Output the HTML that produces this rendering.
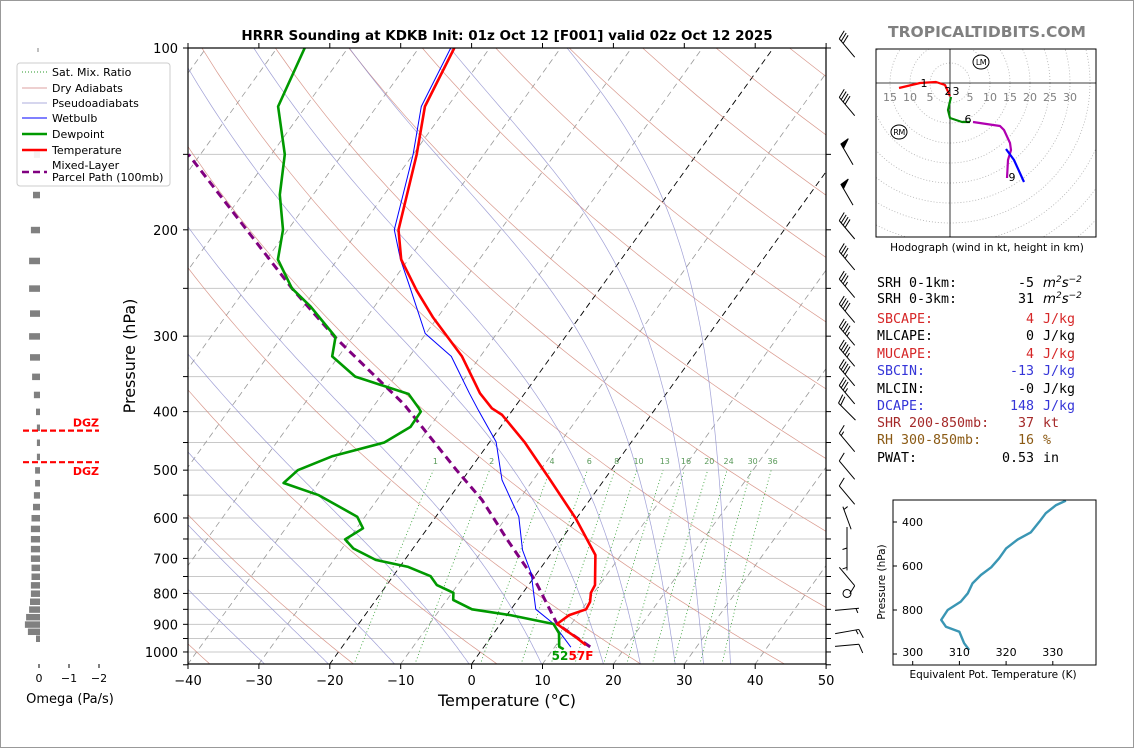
<!DOCTYPE html>
<html><head><meta charset="utf-8"><title>HRRR Sounding KDKB</title>
<style>
html,body{margin:0;padding:0;background:#fff;}
svg{display:block;font-family:"DejaVu Sans","Liberation Sans",sans-serif;}
.mono{font-family:"DejaVu Sans Mono","Liberation Mono",monospace;font-size:13.3px;}
</style></head>
<body>
<svg id="fig" xmlns="http://www.w3.org/2000/svg" width="1134" height="748" viewBox="0 0 1134 748">
<rect x="0.5" y="0.5" width="1133" height="747" fill="#fff" stroke="#999"/>
<defs>
<clipPath id="mainClip"><rect x="188" y="48" width="638" height="616"/></clipPath>
<clipPath id="hodoClip"><rect x="876" y="49" width="220" height="188"/></clipPath>
<clipPath id="teClip"><rect x="893" y="500" width="203" height="165"/></clipPath>
</defs>
<g id="mainGrid" clip-path="url(#mainClip)"></g>
<g id="mainData" clip-path="url(#mainClip)"></g>
<g id="mainAxes"></g>
<g id="omega"></g>
<g id="barbs"></g>
<g id="hodo"></g>
<g id="te"></g>

<text x="507" y="40" text-anchor="middle" font-size="13.5" font-weight="bold">HRRR Sounding at KDKB Init: 01z Oct 12 [F001] valid 02z Oct 12 2025</text>
<text x="987" y="37" text-anchor="middle" font-size="15.5" font-weight="bold" fill="#808080">TROPICALTIDBITS.COM</text>
<text x="507" y="706" text-anchor="middle" font-size="16">Temperature (°C)</text>
<text transform="translate(135,356) rotate(-90)" text-anchor="middle" font-size="16">Pressure (hPa)</text>

<g class="mono">
<text x="877" y="287" xml:space="preserve">SRH 0-1km:</text><text x="1034" y="287" text-anchor="end">-5</text><text x="1043" y="287" font-style="italic" font-family="DejaVu Sans">m<tspan dy="-5" font-size="9">2</tspan><tspan dy="5">s</tspan><tspan dy="-5" font-size="9">−2</tspan></text>
<text x="877" y="303">SRH 0-3km:</text><text x="1034" y="303" text-anchor="end">31</text><text x="1043" y="303" font-style="italic" font-family="DejaVu Sans">m<tspan dy="-5" font-size="9">2</tspan><tspan dy="5">s</tspan><tspan dy="-5" font-size="9">−2</tspan></text>
<g fill="#d62728"><text x="877" y="323">SBCAPE:</text><text x="1034" y="323" text-anchor="end">4</text><text x="1043" y="323">J/kg</text></g>
<g fill="#000"><text x="877" y="340">MLCAPE:</text><text x="1034" y="340" text-anchor="end">0</text><text x="1043" y="340">J/kg</text></g>
<g fill="#d62728"><text x="877" y="358">MUCAPE:</text><text x="1034" y="358" text-anchor="end">4</text><text x="1043" y="358">J/kg</text></g>
<g fill="#3535d8"><text x="877" y="375">SBCIN:</text><text x="1034" y="375" text-anchor="end">-13</text><text x="1043" y="375">J/kg</text></g>
<g fill="#000"><text x="877" y="393">MLCIN:</text><text x="1034" y="393" text-anchor="end">-0</text><text x="1043" y="393">J/kg</text></g>
<g fill="#3535d8"><text x="877" y="410">DCAPE:</text><text x="1034" y="410" text-anchor="end">148</text><text x="1043" y="410">J/kg</text></g>
<g fill="#a52a2a"><text x="877" y="427">SHR 200-850mb:</text><text x="1034" y="427" text-anchor="end">37</text><text x="1043" y="427">kt</text></g>
<g fill="#8b5a14"><text x="877" y="444">RH 300-850mb:</text><text x="1034" y="444" text-anchor="end">16</text><text x="1043" y="444">%</text></g>
<g fill="#000"><text x="877" y="462">PWAT:</text><text x="1034" y="462" text-anchor="end">0.53</text><text x="1043" y="462">in</text></g>
</g>

<g font-size="11">
<rect x="17" y="63" width="153" height="123" rx="3" fill="#fff" fill-opacity="0.9" stroke="#ccc"/>
<line x1="22" y1="72" x2="47" y2="72" stroke="#2a9a2a" stroke-dasharray="1,2"/><text x="52" y="76">Sat. Mix. Ratio</text>
<line x1="22" y1="88" x2="47" y2="88" stroke="#d08080" stroke-width="0.8"/><text x="52" y="92">Dry Adiabats</text>
<line x1="22" y1="103" x2="47" y2="103" stroke="#9090d0" stroke-width="0.8"/><text x="52" y="107">Pseudoadiabats</text>
<line x1="22" y1="118" x2="47" y2="118" stroke="#0000ff" stroke-width="1"/><text x="52" y="122">Wetbulb</text>
<line x1="22" y1="134" x2="47" y2="134" stroke="#009900" stroke-width="2.5"/><text x="52" y="138">Dewpoint</text>
<line x1="22" y1="150" x2="47" y2="150" stroke="#ff0000" stroke-width="2.5"/><text x="52" y="154">Temperature</text>
<line x1="22" y1="172" x2="47" y2="172" stroke="#800080" stroke-width="2.5" stroke-dasharray="7,4"/><text x="52" y="169">Mixed-Layer</text><text x="52" y="181">Parcel Path (100mb)</text>
</g>
</svg>
<script>
// ---------- data ----------
const tempP=[100,125,150,200,224,252,279,324,373,395,405,449,516,601,691,775,798,826,850,869,899,920,944,974];
const tempT=[-65,-63.2,-59.5,-54.4,-51,-45.7,-40.7,-32.6,-26.3,-23.1,-21,-15.1,-7.9,-0.1,6.4,9.4,9.6,10.4,10.6,8.8,8,9.8,11.9,14.2];
const dewP=[100,125,150,175,200,224,250,268,301,324,350,374,395,400,424,450,474,500,525,550,597,624,651,674,704,723,749,775,798,820,850,869,899,931,980,990];
const dewT=[-86.1,-83.9,-78.1,-74.7,-70.7,-68.4,-63.5,-59,-52.4,-50.9,-45.6,-36.3,-33.4,-32.8,-32.7,-34.8,-40.7,-44.2,-44.9,-38.7,-31.1,-29.1,-30.5,-28.4,-24.1,-18.8,-14.7,-12.9,-9.8,-9.1,-5.5,0.5,7.5,9.2,10.6,11.5];
const wbP=[100,125,150,200,224,250,297,324,373,398,449,519,597,678,741,800,850,897,982];
const wbT=[-65.5,-63.7,-60,-55,-51.1,-46.8,-40.1,-34.1,-27.8,-24.8,-19.1,-14.4,-8.3,-4.4,-0.8,1.6,3.5,7.4,12.3];
const parcelP=[981,899,760,653,560,500,389,301,250,150];
const parcelT=[15,8,0.4,-7.5,-15.2,-21.8,-35.9,-52.5,-63.5,-91.7];
const omegaP=[150,175,200,225,250,275,300,325,350,375,400,425,450,475,500,525,550,575,600,625,650,675,700,725,750,775,800,825,850,875,900,925,950];
const omegaV=[0.17,0.2,0.27,0.33,0.33,0.3,0.33,0.3,0.23,0.17,0.1,0.07,0.07,0.07,0.13,0.13,0.17,0.2,0.25,0.27,0.27,0.27,0.27,0.25,0.25,0.27,0.27,0.3,0.33,0.43,0.47,0.37,0.1];
const windP=[100,125,150,175,200,225,250,275,300,325,350,375,400,450,500,550,600,650,700,750,800,850,925,975];
const windDir=[320,320,330,330,320,320,320,320,320,320,320,320,315,320,320,320,340,180,180,140,0,85,80,85];
const windSpd=[30,40,50,50,40,35,35,40,45,45,40,35,20,15,10,10,5,5,5,10,0,5,15,10];
const hodoRedU=[-12.75,-7.5,-3.5,-1.25,0], hodoRedV=[-1.25,0,0.25,-0.5,-3.25];
const hodoGreenU=[0.25,-0.5,0,3,5], hodoGreenV=[-3.5,-6.75,-8.75,-9.75,-9.75];
const hodoPurpleU=[5.75,12.5,13.5,15,15.25,14.5,14.25], hodoPurpleV=[-9.75,-10.75,-11.75,-15,-16.75,-19.25,-23.75];
const hodoBlueU=[14,16,18.5], hodoBlueV=[-16.5,-19.25,-24.75];
const thetaP=[303,323,360,399,447,479,520,565,606,641,679,724,762,800,845,876,899,951,982];
const thetaE=[332.8,330.7,328.5,327.1,325.3,322.5,320,318.5,316.8,314.6,312.8,311.8,310.3,307.5,306.1,307.1,310,311,312.1];
const pressureTicks=[100,200,300,400,500,600,700,800,900,1000];
const tempTicks=[-40,-30,-20,-10,0,10,20,30,40,50];
const mixRatios=[1,2,4,6,8,10,13,16,20,24,30,36];

// ---------- axes ----------
const NS="http://www.w3.org/2000/svg";
function yP(p){return 48+262.3*Math.log(p/100);}
function xT(T,p){return 188+(T+40)*7.09+0.72*(664-yP(p));}
function xO(w){return 39-30*w;}
function hx(u){return 950+4*u;} function hy(v){return 83-4*v;}
function tx(k){return 912.7+(k-300)*4.67;} function ty(p){return 522+(p-400)*0.22;}
function el(tag,attrs,parent){const e=document.createElementNS(NS,tag);for(const k in attrs)e.setAttribute(k,attrs[k]);parent.appendChild(e);return e;}
function pathD(pts){return pts.map((q,i)=>(i?'L':'M')+q[0].toFixed(1)+' '+q[1].toFixed(1)).join(' ');}

const grid=document.getElementById('mainGrid');
const data=document.getElementById('mainData');
const axes=document.getElementById('mainAxes');

// horizontal isobars
for(let p=100;p<=1050;p+=50){
  const l=el('line',{x1:188,x2:826,y1:yP(p),y2:yP(p),stroke:'#c8c8c8','stroke-width':1},grid);
  
  
}
// isotherms
for(let T=-120;T<=50;T+=10){
  const black=(T===0||T===-20);
  const l=el('line',{x1:xT(T,1050),y1:yP(1050),x2:xT(T,100),y2:yP(100),stroke:black?'#000':'#999','stroke-width':black?0.9:0.8,'stroke-dasharray':'6,4'},grid);
  
  
}
// dry adiabats
for(let t0=-60;t0<=220;t0+=20){
  const th=t0+273.15;const pts=[];
  for(let p=1050;p>=100;p-=10)pts.push([xT(th*Math.pow(p/1000,0.2857)-273.15,p),yP(p)]);
  const l=el('path',{d:pathD(pts),fill:'none',stroke:'#d08070','stroke-width':0.7,'stroke-opacity':0.8},grid);
  
  
}
// moist adiabats
function es(T){return 6.112*Math.exp(17.67*T/(T+243.5));}
function dTdp(T,p){const Tk=T+273.15,e=es(T),rs=0.622*e/(p-e),Rd=287.04,cp=1005.7,Lv=2.501e6;return (Rd*Tk+Lv*rs)/(cp+Lv*Lv*rs*0.622/(Rd*Tk*Tk))/p;}
[-29,-20,-10.7,-0.2,10,18.7,23.9,28.8,32.8,36.6].forEach(t0=>{
  let T=t0;const pts=[[xT(T,1050),yP(1050)]];
  for(let p=1050;p>100;p-=5){T-=dTdp(T,p)*5;pts.push([xT(T,p-5),yP(p-5)]);}
  const l=el('path',{d:pathD(pts),fill:'none',stroke:'#8888cc','stroke-width':0.7,'stroke-opacity':0.8},grid);
  
  
});
// mixing ratio lines
function tdFromW(w,p){const e=w*p/(622+w);const a=Math.log(e/6.112);return 243.5*a/(17.67-a);}
mixRatios.forEach(w=>{
  const pts=[];for(let p=1050;p>=500;p-=10)pts.push([xT(tdFromW(w,p),p),yP(p)]);
  const l=el('path',{d:pathD(pts),fill:'none',stroke:'#2a9a2a','stroke-width':0.8,'stroke-dasharray':'1,2.5'},grid);
  
  
  const t=el('text',{x:xT(tdFromW(w,490),490),y:yP(490)-1,'text-anchor':'middle','font-size':8,fill:'#5a9a5a'},grid);
  t.textContent=w;
  
  
});

// profiles
function prof(P,T,color,width,dash,name){
  const pts=P.map((p,i)=>[xT(T[i],p),yP(p)]);
  const a={d:pathD(pts),fill:'none',stroke:color,'stroke-width':width,'stroke-linejoin':'round'};
  if(dash)a['stroke-dasharray']=dash;
  const l=el('path',a,data);
  
  
}
prof(parcelP,parcelT,'#800080',3,'8,5','parcel-path');
prof(wbP,wbT,'#0000ff',1,null,'wetbulb-line');
prof(dewP,dewT,'#009900',2.6,null,'dewpoint-line');
prof(tempP,tempT,'#ff0000',2.6,null,'temperature-line');
{
  const s=el('text',{x:560,y:660,'text-anchor':'middle','font-size':12,'font-weight':'bold',fill:'#009900'},data);s.textContent='52';
  
  
  const t=el('text',{x:581,y:660,'text-anchor':'middle','font-size':12,'font-weight':'bold',fill:'#ff0000'},data);t.textContent='57F';
  
  
}

// frame + ticks
{
  const f=el('rect',{x:188,y:48,width:638,height:616,fill:'none',stroke:'#000','stroke-width':1.2},axes);
  
  
}
for(let p=100;p<=1050;p+=50){
  el('line',{x1:183,x2:188,y1:yP(p),y2:yP(p),stroke:'#000'},axes);
  el('line',{x1:826,x2:831,y1:yP(p),y2:yP(p),stroke:'#000'},axes);
}
pressureTicks.forEach(p=>{
  const t=el('text',{x:178,y:yP(p)+5,'text-anchor':'end','font-size':13},axes);t.textContent=p;
  
  
});
tempTicks.forEach(T=>{
  const x=188+(T+40)*7.09;
  el('line',{x1:x,x2:x,y1:664,y2:669,stroke:'#000'},axes);
  el('line',{x1:x,x2:x,y1:43,y2:48,stroke:'#000'},axes);
  const t=el('text',{x:x,y:685,'text-anchor':'middle','font-size':13},axes);t.textContent=(T<0?'−':'')+Math.abs(T);
  
  
});

// ---------- omega ----------
const om=document.getElementById('omega');
omegaP.forEach((p,i)=>{
  const r=el('rect',{x:xO(omegaV[i]),y:yP(p)-3,width:xO(0)-xO(omegaV[i])+1,height:6.5,fill:'#808080'},om);
  
  
});
el('line',{x1:38,x2:38,y1:48,y2:52,stroke:'#808080'},om);
[[yP(430),'DGZ',-4],[yP(485),'DGZ',14]].forEach((d,i)=>{
  const l=el('line',{x1:23,x2:99,y1:d[0],y2:d[0],stroke:'#ff0000','stroke-width':2.2,'stroke-dasharray':'6,3'},om);
  
  
  const t=el('text',{x:99,y:d[0]+d[2]+(i?-1:0),'text-anchor':'end','font-size':11,'font-weight':'bold',fill:'#ff0000'},om);t.textContent=d[1];
  
  
});
[0,-1,-2].forEach(w=>{
  el('line',{x1:xO(w),x2:xO(w),y1:664,y2:668,stroke:'#000'},om);
  const t=el('text',{x:xO(w),y:682,'text-anchor':'middle','font-size':11},om);t.textContent=w===0?'0':'−'+Math.abs(w);
  
  
});
{const t=el('text',{x:70,y:703,'text-anchor':'middle','font-size':13},om);t.textContent='Omega (Pa/s)';

}

// ---------- barbs ----------
const bg=document.getElementById('barbs');
function barb(p,dir,spd){
  const cx=847,cy=yP(p),L=24;
  if(spd<2.5){const c=el('circle',{cx:cx,cy:cy,r:4,fill:'none',stroke:'#000','stroke-width':1},bg);
    
    return;}
  const r=dir*Math.PI/180,dx=Math.sin(r),dy=-Math.cos(r);
  const px=-dy,py=dx;
  const ex=cx+dx*L/2,ey=cy+dy*L/2,sx=cx-dx*L/2,sy=cy-dy*L/2;
  const g=el('g',{stroke:'#000','stroke-width':1,fill:'#000'},bg);
  
  
  el('line',{x1:sx,y1:sy,x2:ex,y2:ey},g);
  let s=Math.round(spd/5)*5,pos=0,bl=9;
  while(s>=50){const ax=ex-dx*pos,ay=ey-dy*pos,bx=ex-dx*(pos+5),by=ey-dy*(pos+5);
    el('polygon',{points:ax+','+ay+' '+(ax+px*bl+dx*1)+','+(ay+py*bl+dy*1)+' '+bx+','+by},g);pos+=6;s-=50;}
  while(s>=10){const ax=ex-dx*pos,ay=ey-dy*pos;el('line',{x1:ax,y1:ay,x2:ax+px*bl+dx*3,y2:ay+py*bl+dy*3},g);pos+=3;s-=10;}
  if(s>=5){if(pos===0)pos=3;const ax=ex-dx*pos,ay=ey-dy*pos;el('line',{x1:ax,y1:ay,x2:ax+px*bl/2+dx*1.5,y2:ay+py*bl/2+dy*1.5},g);}
}
windP.forEach((p,i)=>barb(p,windDir[i],windSpd[i]));

// ---------- hodograph ----------
const hg=document.getElementById('hodo');
const hc=el('g',{'clip-path':'url(#hodoClip)'},hg);
for(let r=5;r<=80;r+=5){const c=el('circle',{cx:hx(0),cy:hy(0),r:r*4,fill:'none',stroke:'#b0b0b0','stroke-width':0.8,'stroke-dasharray':'1,2'},hc);
  
  }
el('line',{x1:876,x2:1096,y1:hy(0),y2:hy(0),stroke:'#000','stroke-width':0.8},hc);
el('line',{x1:hx(0),x2:hx(0),y1:49,y2:237,stroke:'#000','stroke-width':0.8},hc);
[[-15,'15'],[-10,'10'],[-5,'5'],[5,'5'],[10,'10'],[15,'15'],[20,'20'],[25,'25'],[30,'30']].forEach(d=>{
  const t=el('text',{x:hx(d[0]),y:101,'text-anchor':'middle','font-size':11,fill:'#808080'},hc);t.textContent=d[1];
  
  
});
function hline(U,V,c,name){const l=el('path',{d:pathD(U.map((u,i)=>[hx(u),hy(V[i])])),fill:'none',stroke:c,'stroke-width':2.2,'stroke-linejoin':'round'},hc);
  
  }
hline(hodoRedU,hodoRedV,'#ff0000','hodograph-0-3km');
hline(hodoGreenU,hodoGreenV,'#008800','hodograph-3-6km');
hline(hodoPurpleU,hodoPurpleV,'#b000b0','hodograph-6-9km');
hline(hodoBlueU,hodoBlueV,'#0000ff','hodograph-9km-plus');
[[-6.5,0,'1'],[-0.5,-2,'2'],[1.5,-2,'3'],[4.5,-9,'6'],[15.5,-23.5,'9']].forEach(d=>{
  const t=el('text',{x:hx(d[0]),y:hy(d[1])+4,'text-anchor':'middle','font-size':11},hc);t.textContent=d[2];
  
  
});
[[981,62,'LM'],[899,132,'RM']].forEach(d=>{
  el('ellipse',{cx:d[0],cy:d[1],rx:8,ry:7,fill:'#fff',stroke:'#000','stroke-width':1},hc);
  const t=el('text',{x:d[0],y:d[1]+3,'text-anchor':'middle','font-size':8,'letter-spacing':'-0.5'},hc);t.textContent=d[2];
  
  
});
el('rect',{x:876,y:49,width:220,height:188,fill:'none',stroke:'#000','stroke-width':1},hg);
{const t=el('text',{x:987,y:251,'text-anchor':'middle','font-size':10.5},hg);t.textContent='Hodograph (wind in kt, height in km)';

}

// ---------- theta-e ----------
const tg=document.getElementById('te');
const tc=el('g',{'clip-path':'url(#teClip)'},tg);
{const l=el('path',{d:pathD(thetaP.map((p,i)=>[tx(thetaE[i]),ty(p)])),fill:'none',stroke:'#3a96b4','stroke-width':2.4,'stroke-linejoin':'round'},tc);

}
el('rect',{x:893,y:500,width:203,height:165,fill:'none',stroke:'#000','stroke-width':1},tg);
[400,600,800,1000].forEach(p=>{
  el('line',{x1:893,x2:897,y1:ty(p),y2:ty(p),stroke:'#000'},tg);
  if(p<1000){const t=el('text',{x:902,y:ty(p)+4,'font-size':11},tg);t.textContent=p;
  
  }
});
[300,310,320,330].forEach(k=>{
  el('line',{x1:tx(k),x2:tx(k),y1:661,y2:665,stroke:'#000'},tg);
  const t=el('text',{x:tx(k),y:656,'text-anchor':'middle','font-size':11},tg);t.textContent=k;
  
  
});
{const t=el('text',{transform:'translate(885,582) rotate(-90)','text-anchor':'middle','font-size':10.5},tg);t.textContent='Pressure (hPa)';


const u=el('text',{x:993,y:678,'text-anchor':'middle','font-size':10.5},tg);u.textContent='Equivalent Pot. Temperature (K)';

}
</script>
</body></html>
